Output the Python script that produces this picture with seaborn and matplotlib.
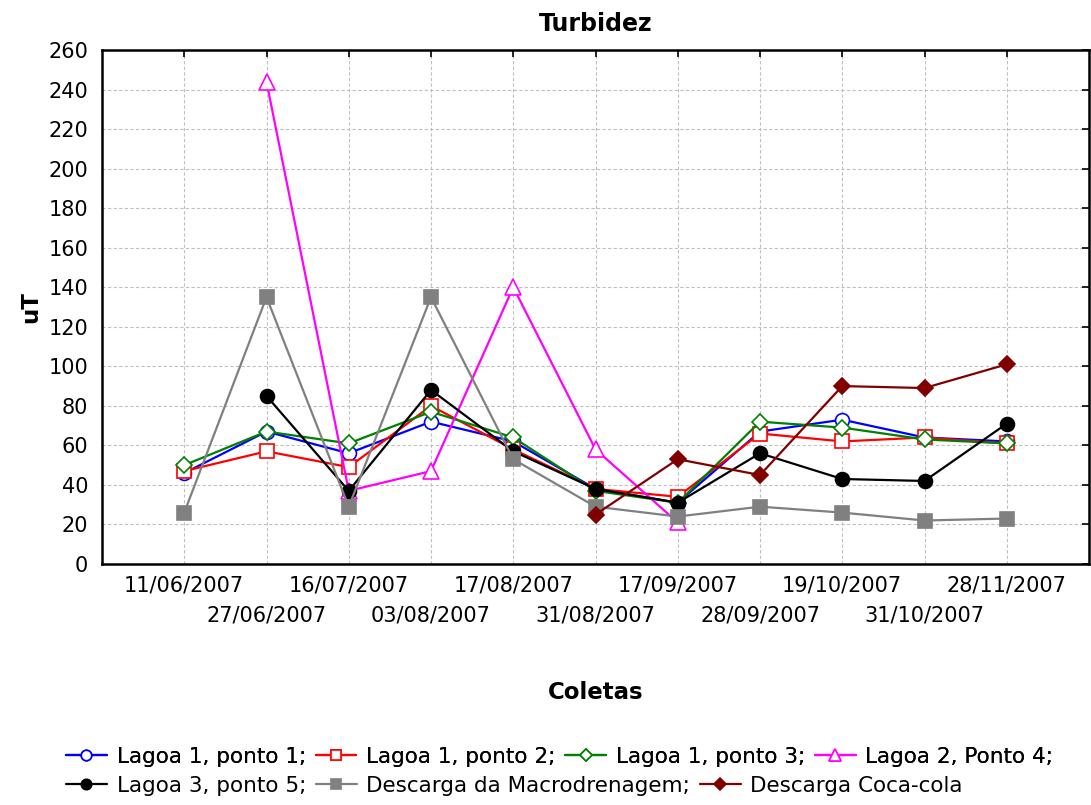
import numpy as np
import pandas as pd
import matplotlib
matplotlib.use('Agg')
import matplotlib.pyplot as plt
import seaborn as sns

# collection dates (x categories)
datas = ['11/06/2007', '27/06/2007', '16/07/2007', '03/08/2007', '17/08/2007', '31/08/2007',
         '17/09/2007', '28/09/2007', '19/10/2007', '31/10/2007', '28/11/2007']

# turbidity values (None = no sample)
lagoa1_p1 = [46, 67, 56, 72, 62, 38, 31, 67, 73, 64, 62]
lagoa1_p2 = [47, 57, 49, 80, 58, 38, 34, 66, 62, 64, 61]
lagoa1_p3 = [50, 67, 61, 77, 64, 37, 31, 72, 69, 63, 61]
lagoa2_p4 = [None, 244, 37, 47, 140, 58, 21, None, None, None, None]
lagoa3_p5 = [None, 85, 37, 88, 57, 38, 31, 56, 43, 42, 71]
macrodren = [26, 135, 29, 135, 53, 29, 24, 29, 26, 22, 23]
cocacola = [None, None, None, None, None, 25, 53, 45, 90, 89, 101]

series = {
    'Lagoa 1, ponto 1;': lagoa1_p1,
    'Lagoa 1, ponto 2;': lagoa1_p2,
    'Lagoa 1, ponto 3;': lagoa1_p3,
    'Lagoa 2, Ponto 4;': lagoa2_p4,
    'Lagoa 3, ponto 5;': lagoa3_p5,
    'Descarga da Macrodrenagem;': macrodren,
    'Descarga Coca-cola': cocacola,
}
# color, marker, filled
styles = {
    'Lagoa 1, ponto 1;': ('#0000ff', 'o', False),
    'Lagoa 1, ponto 2;': ('#ff0000', 's', False),
    'Lagoa 1, ponto 3;': ('#008000', 'D', False),
    'Lagoa 2, Ponto 4;': ('#ff00ff', '^', False),
    'Lagoa 3, ponto 5;': ('#000000', 'o', True),
    'Descarga da Macrodrenagem;': ('#808080', 's', True),
    'Descarga Coca-cola': ('#800000', 'D', True),
}

rows = []
for name, vals in series.items():
    for i, v in enumerate(vals):
        rows.append({'serie': name, 'pos': i, 'uT': v})
df = pd.DataFrame(rows).dropna()

sns.set_style('white')
plt.rcParams['font.family'] = ['DejaVu Sans']
plt.rcParams['text.color'] = 'black'
plt.rcParams['axes.labelcolor'] = 'black'

fig = plt.figure(figsize=(10.91, 8.05), dpi=100)
ax = fig.add_axes([102 / 1091, 1 - 564 / 805, (1089 - 102) / 1091, (564 - 50) / 805])

handles = []
for name in series:
    col, mk, filled = styles[name]
    sub = df[df['serie'] == name]
    ms = {'o': 10, 's': 10, 'D': 8.5, '^': 11}[mk]
    sns.lineplot(data=sub, x='pos', y='uT', ax=ax, color=col, marker=mk, markersize=ms,
                 markerfacecolor=col if filled else 'white', markeredgecolor=col,
                 markeredgewidth=1.2, linewidth=1.6, label=name, legend=False, zorder=3)
    handles.append(ax.lines[-1])

ax.set_xlim(-1, 11)
ax.set_ylim(0, 260)
ax.set_yticks(np.arange(0, 261, 20))
# alternate date labels on two rows: even ones as major ticks, odd ones as minor ticks
ax.set_xticks(range(0, len(datas), 2))
ax.set_xticklabels(datas[0::2])
ax.set_xticks(range(1, len(datas), 2), minor=True)
ax.set_xticklabels(datas[1::2], minor=True)
ax.grid(True, which='both', color='#c0c0c0', linestyle=(0, (3, 2)), linewidth=0.8)
ax.tick_params(which='both', direction='in', length=5, width=1.2, top=True, right=True,
               labelsize=15, colors='black')
ax.tick_params(axis='y', pad=10)
ax.tick_params(axis='x', which='major', pad=8)
ax.tick_params(axis='x', which='minor', pad=30)
for s in ax.spines.values():
    s.set_color('black')
    s.set_linewidth(1.8)
ax.set_xlabel('Coletas', fontsize=16.5, fontweight='bold', labelpad=40)
ax.set_ylabel('uT', fontsize=16.5, fontweight='bold', labelpad=4)
ax.set_title('Turbidez', fontsize=17, fontweight='bold', pad=14)

# legend in two rows, flowing like the original
leg_kw = dict(loc='upper left', frameon=False, fontsize=15.5, handlelength=1.9, handletextpad=0.45,
              columnspacing=0.45, borderaxespad=0, borderpad=0, markerscale=0.75)
leg1 = fig.legend(handles[:4], list(series)[:4], bbox_to_anchor=(66 / 1091, 1 - 747 / 805),
                  ncol=4, **leg_kw)
leg2 = fig.legend(handles[4:], list(series)[4:], bbox_to_anchor=(66 / 1091, 1 - 776 / 805),
                  ncol=3, **leg_kw)
fig.add_artist(leg1)

fig.savefig('out.png', dpi=100)
